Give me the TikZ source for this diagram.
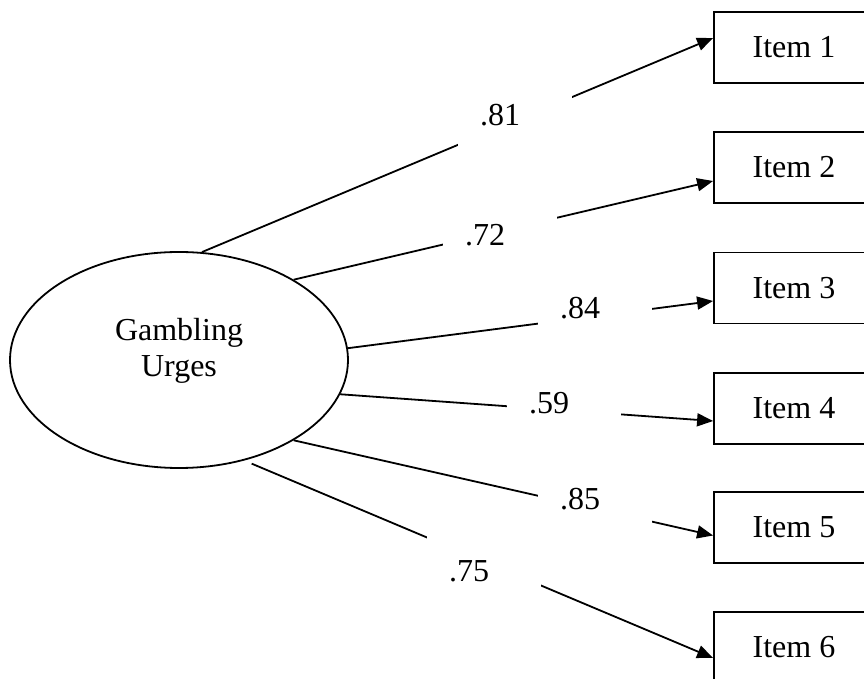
\documentclass[tikz,border=0pt]{standalone}
\usepackage{fontspec}
\setmainfont{Liberation Serif}
\usetikzlibrary{arrows.meta,shapes.geometric}

\begin{document}
\begin{tikzpicture}[x=0.5pt, y=-0.5pt,
		every node/.style={font=\fontsize{16}{18.3}\selectfont},
		latent/.style={draw, ellipse, line width=0.9pt, minimum width=169pt, minimum height=108pt, inner sep=0pt, align=center, text depth=12.5pt},
		obs/.style={draw, line width=0.9pt, minimum width=80pt, minimum height=35.5pt},
		conn/.style={-{Triangle[length=8pt, width=6.5pt]}, line width=0.9pt},
		coef/.style={fill=white, text width=35pt, inner xsep=11pt, inner ysep=0pt, minimum height=35pt, align=left}
		]
		
		\useasboundingbox (0,0) rectangle (864,679);
		\clip (0,0) rectangle (864,679);
		
		% Latent factor
		\node[latent] (urges) at (179,360) {Gambling\\Urges};
		
		% Items
		\node[obs] (item1) at (794,47.5) {Item 1};
		\node[obs] (item2) at (794,167.5) {Item 2};
		\node[obs] (item3) at (794,288) {Item 3};
		\node[obs] (item4) at (794,408.5) {Item 4};
		\node[obs] (item5) at (794,527.5) {Item 5};
		\node[obs] (item6) at (794,647.5) {Item 6};
		
		% Loadings
		\draw[conn] (urges.78) -- ([yshift=4.75pt]item1.west);
		\draw[conn] (urges.35) -- ([yshift=-6.75pt]item2.west);
		\draw[conn] (urges.4) -- ([yshift=-6.5pt]item3.west);
		\draw[conn] (urges.-12) -- ([yshift=-6.25pt]item4.west);
		\draw[conn] (urges.-35) -- ([yshift=-4pt]item5.west);
		\draw[conn, shorten <=4pt] (urges.-57) -- ([yshift=-5.25pt]item6.west);
		
		\node[coef] (load1) at (515,115) {.81};
		\node[coef] (load2) at (500,235) {.72};
		\node[coef] (load3) at (595,308) {.84};
		\node[coef] (load4) at (564,403) {.59};
		\node[coef] (load5) at (595,499) {.85};
		\node[coef] (load6) at (484,571) {.75};
		
	\end{tikzpicture}
\end{document}
